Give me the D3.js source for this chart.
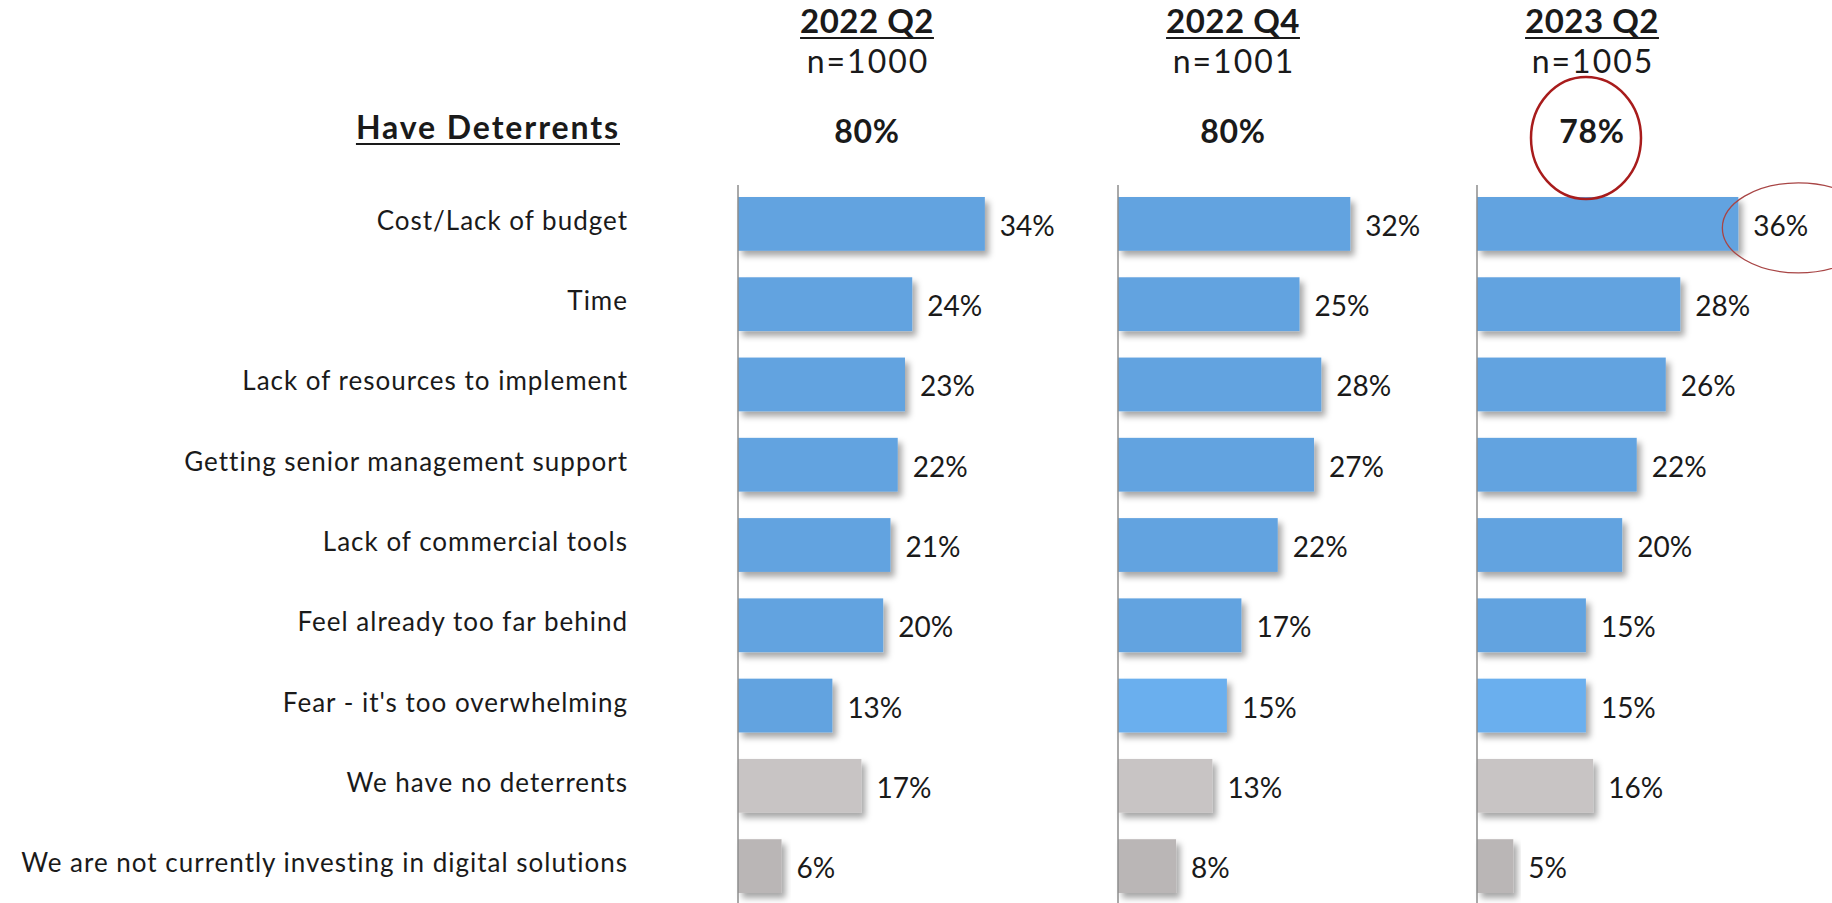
<!DOCTYPE html>
<html>
<head>
<meta charset="utf-8">
<script src="https://cdn.jsdelivr.net/npm/d3@7"></script>
<style>
  body { margin: 0; background: #fff; }
  svg text { font-family: Lato, "Open Sans", sans-serif; fill: #1a1a1a; }
</style>
</head>
<body>
<div id="chart"></div>
<script>
'use strict';

// chart data
var categories = [
  "Cost/Lack of budget",
  "Time",
  "Lack of resources to implement",
  "Getting senior management support",
  "Lack of commercial tools",
  "Feel already too far behind",
  "Fear - it's too overwhelming",
  "We have no deterrents",
  "We are not currently investing in digital solutions"
];
var waves = ["2022 Q2", "2022 Q4", "2023 Q2"];
var sampleSizes = ["n=1000", "n=1001", "n=1005"];
var haveDeterrents = [80, 80, 78];
var values2022Q2 = [34, 24, 23, 22, 21, 20, 13, 17, 6];
var values2022Q4 = [32, 25, 28, 27, 22, 17, 15, 13, 8];
var values2023Q2 = [36, 28, 26, 22, 20, 15, 15, 16, 5];
var seriesValues = [values2022Q2, values2022Q4, values2023Q2];

var width = 1832,
  height = 903;

// layout
var panelX = [738, 1118, 1477],      // x of each panel's baseline
  headerX = [867, 1233, 1592],       // centre of the column headers
  labelRight = 627;

var svg = d3.select("#chart")
  .append("svg")
  .attr("width", width)
  .attr("height", height);

var defs = svg.append("defs");
var shadow = defs.append("filter")
  .attr("id", "shadow")
  .attr("x", "-10%").attr("y", "-20%")
  .attr("width", "130%").attr("height", "160%");
shadow.append("feDropShadow")
  .attr("dx", 4).attr("dy", 5)
  .attr("stdDeviation", 3)
  .attr("flood-color", "#000")
  .attr("flood-opacity", 0.35);

var x = d3.scaleLinear()
  .domain([0, 100])
  .range([0, 726]);

var y = d3.scaleBand()
  .domain(categories)
  .range([197, 893])
  .paddingInner(0.33)
  .paddingOuter(0)
  .align(0);

function barColor(i, p) {
  if (i === 7) return "#c8c4c4";
  if (i === 8) return "#bab6b6";
  if (i === 6 && p > 0) return "#6bafee";
  return "#62a3e0";
}

// underline helper for bold headings
function underline(sel, anchor) {
  sel.each(function () {
    var t = d3.select(this),
      w = this.getComputedTextLength(),
      tx = +t.attr("x"),
      ty = +t.attr("y"),
      x0 = anchor === "end" ? tx - w : tx - w / 2;
    svg.append("line")
      .attr("x1", x0).attr("x2", x0 + w)
      .attr("y1", ty + 5).attr("y2", ty + 5)
      .attr("stroke", "#1a1a1a")
      .attr("stroke-width", 2.2);
  });
}

// category labels
svg.append("g")
  .selectAll("text")
  .data(categories)
  .enter()
  .append("text")
  .attr("x", labelRight + 1)
  .attr("y", function (d) { return y(d) + y.bandwidth() / 2 + 6; })
  .attr("text-anchor", "end")
  .style("font-size", "26px")
  .style("letter-spacing", "1px")
  .text(function (d) { return d; });

svg.append("text")
  .attr("x", 620)
  .attr("y", 139)
  .attr("text-anchor", "end")
  .style("font-size", "32px")
  .style("font-weight", "bold")
  .style("letter-spacing", "1.9px")
  .text("Have Deterrents")
  .call(underline, "end");

// one panel per wave
waves.forEach(function (wave, p) {
  var g = svg.append("g")
    .attr("transform", "translate(" + panelX[p] + ",0)");

  svg.append("text")
    .attr("x", headerX[p])
    .attr("y", 33)
    .attr("text-anchor", "middle")
    .style("font-size", "33px")
    .style("font-weight", "bold")
    .style("letter-spacing", "0.5px")
    .text(wave)
    .call(underline, "middle");

  svg.append("text")
    .attr("x", headerX[p] + 1)
    .attr("y", 73)
    .attr("text-anchor", "middle")
    .style("font-size", "32px")
    .style("letter-spacing", "2px")
    .text(sampleSizes[p]);

  svg.append("text")
    .attr("x", headerX[p])
    .attr("y", 143)
    .attr("text-anchor", "middle")
    .style("font-size", "32px")
    .style("font-weight", "bold")
    .style("letter-spacing", "0.8px")
    .text(haveDeterrents[p] + "%");

  g.selectAll("rect")
    .data(seriesValues[p])
    .enter()
    .append("rect")
    .attr("x", x(0))
    .attr("y", function (d, i) { return y(categories[i]); })
    .attr("width", function (d) { return x(d); })
    .attr("height", y.bandwidth())
    .attr("fill", function (d, i) { return barColor(i, p); })
    .attr("filter", "url(#shadow)");

  g.selectAll("text.val")
    .data(seriesValues[p])
    .enter()
    .append("text")
    .attr("class", "val")
    .attr("x", function (d) { return x(d) + 15; })
    .attr("y", function (d, i) { return y(categories[i]) + y.bandwidth() / 2 + 12; })
    .style("font-size", "28px")
    .text(function (d) { return d + "%"; });

  g.append("line")
    .attr("x1", 0).attr("x2", 0)
    .attr("y1", 185).attr("y2", height)
    .attr("stroke", "#8c8c8c")
    .attr("stroke-width", 1.5);
});

// red callouts on the latest wave
svg.append("ellipse")
  .attr("cx", headerX[2] - 6)
  .attr("cy", 138)
  .attr("rx", 55)
  .attr("ry", 61)
  .attr("fill", "none")
  .attr("stroke", "#a81c1c")
  .attr("stroke-width", 2.5);

svg.append("ellipse")
  .attr("cx", panelX[2] + x(values2023Q2[0]) + 60)
  .attr("cy", y(categories[0]) + y.bandwidth() / 2 + 4)
  .attr("rx", 76)
  .attr("ry", 45)
  .attr("fill", "none")
  .attr("stroke", "#a84545")
  .attr("stroke-width", 1.3);
</script>
</body>
</html>
